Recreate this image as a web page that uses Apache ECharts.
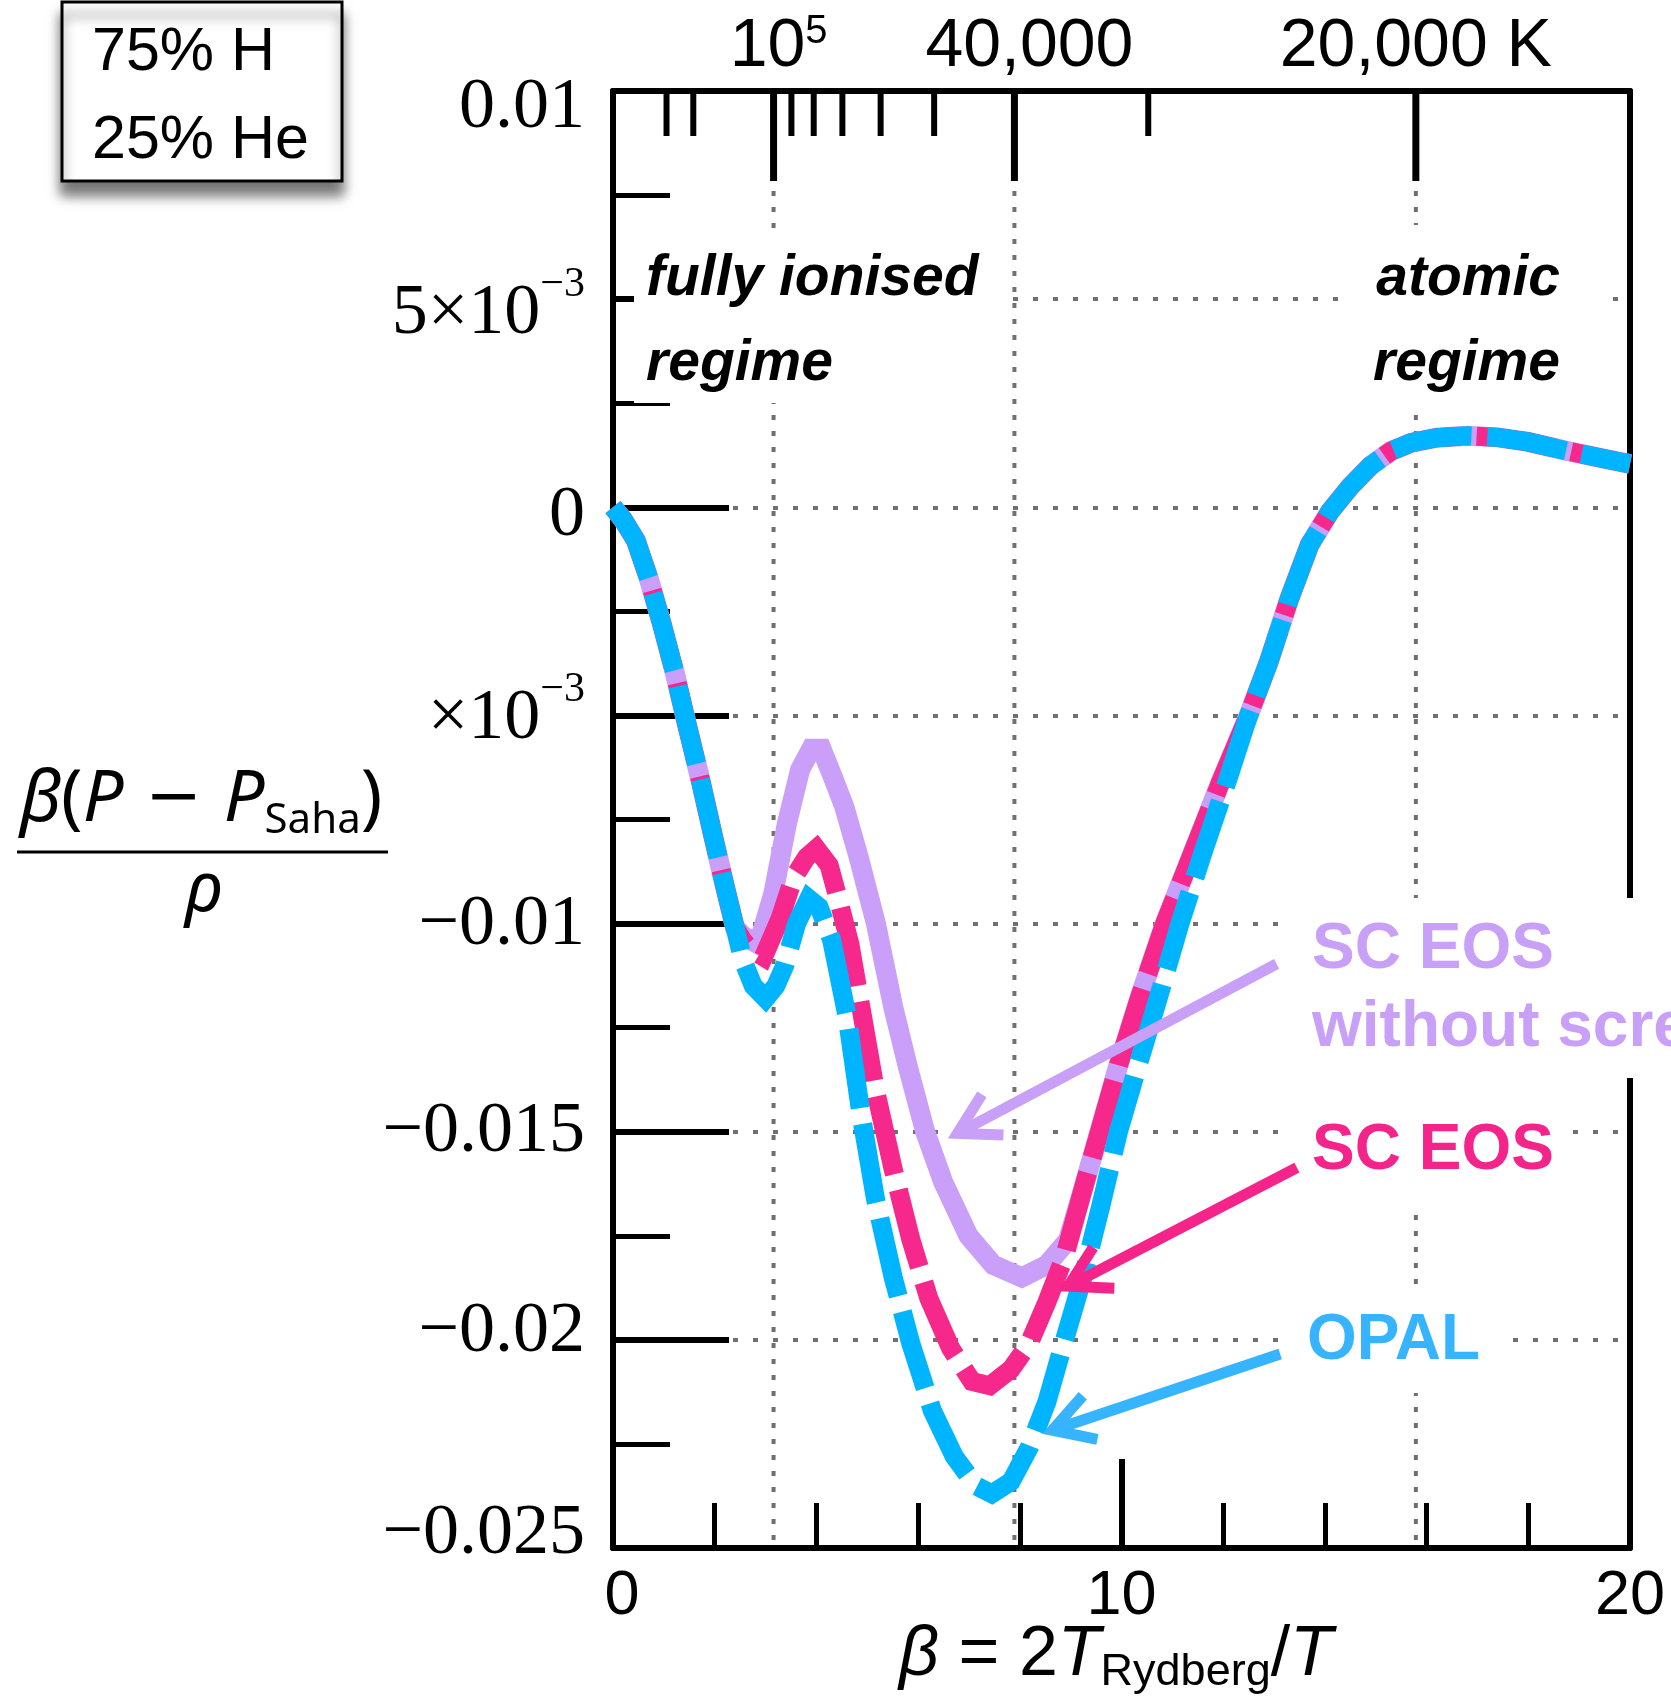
<!DOCTYPE html>
<html>
<head>
<meta charset="utf-8">
<title>β(P − P_Saha)/ρ against β</title>
<script src="https://cdn.jsdelivr.net/npm/echarts@6.0.0/dist/echarts.min.js"></script>
<style>
html, body { margin: 0; padding: 0; background: #ffffff; }
#chart { width: 1671px; height: 1697px; }
</style>
</head>
<body>
<div id="chart"></div>
<script>
// ---------------- data ----------------
// β = 2 T_Rydberg / T, with T_Rydberg in kelvin
const T_RYDBERG = 157887;

// β(P − P_Saha)/ρ as [β, value] pairs
// low-β stretch where all three models coincide
const sharedLow = [
  [0, 0], [0.2, -0.0003], [0.45, -0.0008], [0.7, -0.0017], [0.96, -0.0028],
  [1.22, -0.004], [1.45, -0.0052], [1.71, -0.0065], [1.97, -0.0079],
  [2.2, -0.0091], [2.4, -0.0101]
];
// high-β stretch where all three models coincide
const sharedHigh = [
  [12.5, -0.005], [12.9, -0.0037], [13.3, -0.0022], [13.7, -0.0009],
  [14.1, -0.0001], [14.5, 0.0005], [14.9, 0.001], [15.3, 0.00135],
  [15.7, 0.00155], [16.2, 0.00167], [16.8, 0.00172], [17.4, 0.00168],
  [18.0, 0.00157], [18.7, 0.00137], [19.4, 0.00119], [20, 0.00104]
];
// OPAL
const opalMid = [
  [2.56, -0.0109], [2.76, -0.0115], [3.0, -0.0118], [3.2, -0.0115], [3.38, -0.011],
  [3.61, -0.01], [3.85, -0.0094], [4.05, -0.0096], [4.3, -0.0104], [4.6, -0.0122],
  [4.88, -0.0146], [5.16, -0.0166], [5.51, -0.0185], [5.86, -0.0201], [6.28, -0.0217],
  [6.71, -0.0228], [7.13, -0.0235], [7.45, -0.0237], [7.83, -0.0234], [8.18, -0.0226],
  [8.53, -0.0215], [8.88, -0.02], [9.24, -0.0185], [9.59, -0.0168], [9.94, -0.015],
  [10.3, -0.0135], [10.72, -0.0118], [11.15, -0.01], [11.6, -0.0083], [12.1, -0.0065]
];
// SC EOS
const scEosMid = [
  [2.55, -0.0104], [2.69, -0.0106], [2.96, -0.0108], [3.28, -0.0099], [3.55, -0.0089],
  [3.81, -0.0084], [4.0, -0.0082], [4.25, -0.0086], [4.45, -0.0095], [4.66, -0.0105],
  [4.83, -0.0117], [5.16, -0.014], [5.51, -0.0159], [5.86, -0.0176], [6.21, -0.019],
  [6.64, -0.0202], [7.06, -0.021], [7.41, -0.0211], [7.83, -0.0207], [8.18, -0.0201],
  [8.53, -0.0191], [8.88, -0.018], [9.24, -0.0164], [9.59, -0.0149], [9.94, -0.0134],
  [10.35, -0.0118], [10.85, -0.01], [11.4, -0.0083], [11.95, -0.0066]
];
// SC EOS without screening
const scEosNoScreeningMid = [
  [2.56, -0.0103], [2.86, -0.0105], [3.15, -0.0093], [3.42, -0.0076], [3.68, -0.0063],
  [3.9, -0.0058], [4.1, -0.0058], [4.33, -0.0065], [4.55, -0.0072], [4.83, -0.0084],
  [5.17, -0.01], [5.51, -0.012], [5.79, -0.0134], [6.14, -0.015], [6.49, -0.0162],
  [6.99, -0.0175], [7.48, -0.0182], [8.04, -0.0185], [8.53, -0.0182], [8.95, -0.0176],
  [9.24, -0.0164], [9.59, -0.0149], [9.94, -0.0134], [10.35, -0.0118], [10.85, -0.01],
  [11.4, -0.0083], [11.95, -0.0066]
];

// temperature scale along the top edge (kelvin)
const tempTicksK = [300000, 200000, 100000, 90000, 80000, 70000, 60000, 50000, 40000, 30000, 20000];
const tempMajorK = [100000, 40000, 20000];
const tempMajorLabels = ['{a|10}{s|5}', '{a|40,000}', '{a|20,000 K}'];

// left axis labels
const yLabelValues = [0.01, 0.005, 0, -0.005, -0.01, -0.015, -0.02, -0.025];
const yLabelTexts = ['{m|0.01}', '{m|5×10}{s|−3}', '{m|0}', '{m|×10}{s|−3}',
                     '{m|−0.01}', '{m|−0.015}', '{m|−0.02}', '{m|−0.025}'];

// ---------------- layout & style ----------------
const Y_MIN = -0.025, Y_MAX = 0.01;
const SANS = '"Liberation Sans", Arial, Helvetica, sans-serif';
const SERIF = '"Liberation Serif", "Times New Roman", serif';
const MATH = '"Noto Sans", "DejaVu Sans", sans-serif';
const GRID_GRAY = '#707070';
const C_OPAL = '#00b5ff', C_SC = '#f7288b', C_NOSCR = '#c99ff9';
const C_OPAL_TXT = '#36b4ff', C_SC_TXT = '#f5248a', C_NOSCR_TXT = '#c8a0f8';

const tempLabelShift = [5, 15, 0];
const yLabelNudge = [17, 15, 9, 4, 2, 0, -8, -14];

// annotation arrows, tail and tip in data coordinates
const ARROWS = [
  { from: [13.05, -0.01097], to: [6.775, -0.01504], color: C_NOSCR_TXT },
  { from: [13.45, -0.01586], to: [8.955, -0.01871], color: C_SC_TXT },
  { from: [13.12, -0.02034], to: [8.64, -0.02217], color: C_OPAL_TXT }
];

const topRich = {
  a: { fontFamily: SANS, fontSize: 68, lineHeight: 70, fill: '#000' },
  s: { fontFamily: SANS, fontSize: 40, lineHeight: 40, verticalAlign: 'top', fill: '#000' }
};
const yRich = {
  m: { fontFamily: SERIF, fontSize: 72, lineHeight: 100, fill: '#000' },
  s: { fontFamily: SERIF, fontSize: 42, lineHeight: 42, verticalAlign: 'top', fill: '#000' }
};

function curve(name, data, color, width, dashed, z, offset) {
  return {
    type: 'line', name: name, data: data, z: z,
    xAxisIndex: 0, yAxisIndex: 0,
    showSymbol: false, symbol: 'none', silent: true,
    lineStyle: {
      color: color, width: width,
      type: dashed ? [80, 16] : 'solid', dashOffset: offset || 0,
      cap: 'butt', join: 'miter'
    }
  };
}

function renderTempAxis(params, api) {
  const i = params.dataIndex;
  const T = tempTicksK[i];
  const top = api.coord([api.value(0), Y_MAX]);
  const bottom = api.coord([api.value(0), Y_MIN]);
  const mi = tempMajorK.indexOf(T);
  const major = mi >= 0;
  const len = major ? 90 : 45;
  const children = [{
    type: 'line',
    shape: { x1: top[0], y1: top[1], x2: top[0], y2: top[1] + len },
    style: { stroke: '#000', lineWidth: major ? 7 : 6 }
  }];
  if (major) {
    children.push({
      type: 'line',
      shape: { x1: top[0], y1: top[1] + len + 10, x2: top[0], y2: bottom[1] },
      style: { stroke: GRID_GRAY, lineWidth: 4, lineDash: [5, 11] }
    });
    children.push({
      type: 'text', x: top[0] + tempLabelShift[mi], y: top[1] - 44,
      style: { text: tempMajorLabels[mi], rich: topRich, align: 'center', verticalAlign: 'middle', fill: '#000' }
    });
  }
  return { type: 'group', children: children };
}

function renderYLabel(params, api) {
  const i = params.dataIndex;
  const p = api.coord([0, api.value(1)]);
  return {
    type: 'text', x: p[0] - 28, y: p[1] + yLabelNudge[i],
    style: { text: yLabelTexts[i], rich: yRich, align: 'right', verticalAlign: 'middle', fill: '#000' }
  };
}

function renderArrow(params, api) {
  const a = ARROWS[params.dataIndex];
  const tail = api.coord(a.from), tip = api.coord(a.to);
  const dx = tail[0] - tip[0], dy = tail[1] - tip[1];
  const L = Math.hypot(dx, dy);
  const ux = dx / L, uy = dy / L;
  const ang = 30 * Math.PI / 180, wl = 46;
  const wing = s => [
    tip[0] + wl * (ux * Math.cos(s * ang) - uy * Math.sin(s * ang)),
    tip[1] + wl * (ux * Math.sin(s * ang) + uy * Math.cos(s * ang))
  ];
  return {
    type: 'group',
    children: [
      { type: 'line', shape: { x1: tail[0], y1: tail[1], x2: tip[0] + ux * 4, y2: tip[1] + uy * 4 },
        style: { stroke: a.color, lineWidth: 11, lineCap: 'butt' } },
      { type: 'polyline', shape: { points: [wing(1), tip, wing(-1)] },
        style: { stroke: a.color, lineWidth: 11, fill: null, lineJoin: 'miter', lineCap: 'butt' } }
    ]
  };
}

const chart = echarts.init(document.getElementById('chart'), null, { renderer: 'canvas', width: 1671, height: 1697 });

const option = {
  animation: false,
  backgroundColor: '#ffffff',
  grid: { left: 613, top: 91, width: 1017, height: 1457, containLabel: false },
  xAxis: [
    {
      type: 'value', min: 0, max: 20, interval: 10, position: 'bottom',
      axisLine: { show: true, onZero: false, lineStyle: { color: '#000', width: 6 } },
      axisTick: { show: true, inside: true, length: 89, lineStyle: { color: '#000', width: 6 } },
      minorTick: { show: true, splitNumber: 5, length: 45, lineStyle: { color: '#000', width: 5 } },
      splitLine: { show: false },
      axisLabel: {
        show: true, margin: 17, color: '#000', fontFamily: SANS, fontSize: 63,
        showMinLabel: true, showMaxLabel: true,
        formatter: v => (v === 0 ? '{z|0}' : '{n|' + v + '}'),
        rich: {
          z: { fontFamily: SANS, fontSize: 63, color: '#000', padding: [0, 0, 0, 18] },
          n: { fontFamily: SANS, fontSize: 63, color: '#000' }
        }
      }
    },
    {
      type: 'value', min: 0, max: 20, position: 'top',
      axisLine: { show: true, onZero: false, lineStyle: { color: '#000', width: 6 } },
      axisTick: { show: false }, axisLabel: { show: false }, splitLine: { show: false }
    }
  ],
  yAxis: [
    {
      type: 'value', min: Y_MIN, max: Y_MAX, interval: 0.005, position: 'left',
      axisLine: { show: true, onZero: false, lineStyle: { color: '#000', width: 6 } },
      axisTick: { show: true, inside: true, length: 116, lineStyle: { color: '#000', width: 6 } },
      minorTick: { show: true, splitNumber: 2, length: 57, lineStyle: { color: '#000', width: 5 } },
      axisLabel: { show: false },
      splitLine: { show: true, lineStyle: { color: GRID_GRAY, width: 4, type: [5, 15] } }
    },
    {
      type: 'value', min: Y_MIN, max: Y_MAX, position: 'right',
      axisLine: { show: true, onZero: false, lineStyle: { color: '#000', width: 6 } },
      axisTick: { show: false }, axisLabel: { show: false }, splitLine: { show: false }
    }
  ],
  series: [
    {
      type: 'custom', name: 'temperature', xAxisIndex: 0, yAxisIndex: 0, z: 1, silent: true, clip: false,
      data: tempTicksK.map(T => [2 * T_RYDBERG / T, Y_MAX]),
      renderItem: renderTempAxis
    },
    {
      type: 'custom', name: 'y labels', xAxisIndex: 0, yAxisIndex: 0, z: 1, silent: true, clip: false,
      data: yLabelValues.map(v => [0, v]),
      renderItem: renderYLabel
    },
    curve('SC EOS without screening', sharedLow.concat(scEosNoScreeningMid, sharedHigh), C_NOSCR, 20, false, 2, 0),
    curve('SC EOS', sharedLow.concat(scEosMid, sharedHigh), C_SC, 19, true, 3, 3),
    curve('OPAL', sharedLow.concat(opalMid, sharedHigh), C_OPAL, 19, true, 4, 0),
    {
      type: 'custom', name: 'arrows', xAxisIndex: 0, yAxisIndex: 0, z: 60, silent: true, clip: false,
      data: ARROWS.map(a => [a.to[0], a.to[1]]),
      renderItem: renderArrow
    }
  ],
  graphic: [
    // composition box
    { type: 'rect', z: 40, shape: { x: 62, y: 2, width: 280, height: 179 },
      style: { fill: '#fff', stroke: '#000', lineWidth: 3, shadowBlur: 12, shadowOffsetY: 13, shadowColor: 'rgba(0,0,0,0.55)' } },
    { type: 'text', z: 50, x: 92, y: 53, style: { text: '75% H', fill: '#000', fontFamily: SANS, fontSize: 61, align: 'left', verticalAlign: 'middle' } },
    { type: 'text', z: 50, x: 92, y: 141, style: { text: '25% He', fill: '#000', fontFamily: SANS, fontSize: 61, align: 'left', verticalAlign: 'middle' } },

    // regime captions
    { type: 'rect', z: 40, shape: { x: 634, y: 228, width: 371, height: 175 }, style: { fill: '#fff' } },
    { type: 'text', z: 50, x: 646, y: 279, style: { text: 'fully ionised', fill: '#000', fontFamily: SANS, fontSize: 57, fontWeight: 'bold', fontStyle: 'italic', align: 'left', verticalAlign: 'middle' } },
    { type: 'text', z: 50, x: 646, y: 364, style: { text: 'regime', fill: '#000', fontFamily: SANS, fontSize: 57, fontWeight: 'bold', fontStyle: 'italic', align: 'left', verticalAlign: 'middle' } },
    { type: 'rect', z: 40, shape: { x: 1352, y: 225, width: 253, height: 185 }, style: { fill: '#fff' } },
    { type: 'text', z: 50, x: 1560, y: 279, style: { text: 'atomic', fill: '#000', fontFamily: SANS, fontSize: 57, fontWeight: 'bold', fontStyle: 'italic', align: 'right', verticalAlign: 'middle' } },
    { type: 'text', z: 50, x: 1560, y: 364, style: { text: 'regime', fill: '#000', fontFamily: SANS, fontSize: 57, fontWeight: 'bold', fontStyle: 'italic', align: 'right', verticalAlign: 'middle' } },

    // model labels
    { type: 'rect', z: 40, shape: { x: 1292, y: 898, width: 379, height: 180 }, style: { fill: '#fff' } },
    { type: 'rect', z: 40, shape: { x: 1292, y: 1083, width: 273, height: 125 }, style: { fill: '#fff' } },
    { type: 'rect', z: 40, shape: { x: 1292, y: 1290, width: 211, height: 103 }, style: { fill: '#fff' } },
    { type: 'text', z: 50, x: 1312, y: 950, style: { text: 'SC EOS', fill: C_NOSCR_TXT, fontFamily: SANS, fontSize: 64, fontWeight: 'bold', align: 'left', verticalAlign: 'middle' } },
    { type: 'text', z: 50, x: 1312, y: 1028, style: { text: 'without screening', fill: C_NOSCR_TXT, fontFamily: SANS, fontSize: 64, fontWeight: 'bold', align: 'left', verticalAlign: 'middle' } },
    { type: 'text', z: 50, x: 1312, y: 1151, style: { text: 'SC EOS', fill: C_SC_TXT, fontFamily: SANS, fontSize: 64, fontWeight: 'bold', align: 'left', verticalAlign: 'middle' } },
    { type: 'text', z: 50, x: 1307, y: 1341, style: { text: 'OPAL', fill: C_OPAL_TXT, fontFamily: SANS, fontSize: 64, fontWeight: 'bold', align: 'left', verticalAlign: 'middle' } },

    // y-axis title as a fraction
    { type: 'text', z: 50, x: 201, y: 800, style: {
        text: '{i|β}{r|(}{i|P}{mn| − }{i|P}{b|Saha}{r|)}', align: 'center', verticalAlign: 'middle',
        rich: {
          i: { fontFamily: MATH, fontSize: 72, fontStyle: 'italic', lineHeight: 84, fill: '#000' },
          r: { fontFamily: MATH, fontSize: 72, lineHeight: 84, fill: '#000' },
          mn: { fontFamily: '"DejaVu Sans", sans-serif', fontSize: 68, lineHeight: 84, fill: '#000' },
          b: { fontFamily: MATH, fontSize: 42, lineHeight: 42, verticalAlign: 'bottom', fill: '#000' }
        } } },
    { type: 'line', z: 50, shape: { x1: 17, y1: 852, x2: 388, y2: 852 }, style: { stroke: '#000', lineWidth: 3 } },
    { type: 'text', z: 50, x: 204, y: 891, style: { text: 'ρ', fill: '#000', fontFamily: MATH, fontSize: 70, fontStyle: 'italic', align: 'center', verticalAlign: 'middle' } },

    // x-axis title
    { type: 'text', z: 50, x: 1116, y: 1656, style: {
        text: '{i|β}{r| = 2}{i|T}{b|Rydberg}{r|/}{i|T}', align: 'center', verticalAlign: 'middle',
        rich: {
          i: { fontFamily: SANS, fontSize: 70, fontStyle: 'italic', lineHeight: 78, fill: '#000' },
          r: { fontFamily: SANS, fontSize: 70, lineHeight: 78, fill: '#000' },
          b: { fontFamily: SANS, fontSize: 45, lineHeight: 45, verticalAlign: 'bottom', fill: '#000' }
        } } }
  ]
};

chart.setOption(option);
</script>
</body>
</html>
